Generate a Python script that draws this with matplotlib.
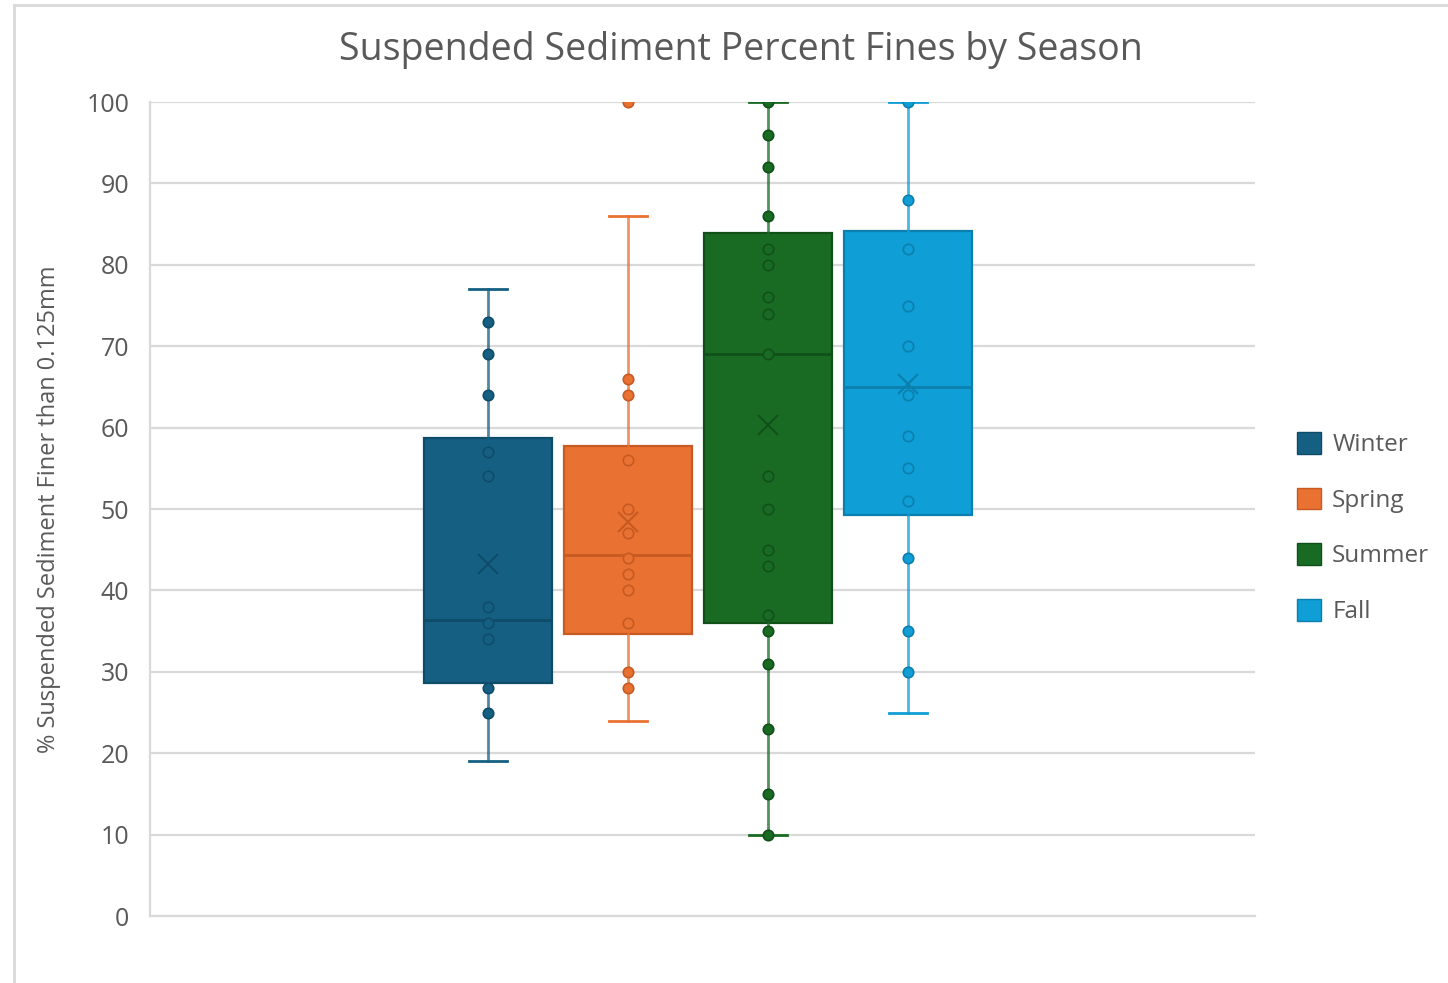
import matplotlib
matplotlib.use("Agg")
import matplotlib.pyplot as plt
from matplotlib.lines import Line2D
from matplotlib.patches import Patch

plt.rcParams['font.family'] = ['Open Sans', 'DejaVu Sans']

# Seasons and their colours
seasons = ["Winter", "Spring", "Summer", "Fall"]
fill_colors = ["#156082", "#E97132", "#196B24", "#0F9ED5"]
edge_colors = ["#0F4C69", "#C65A22", "#12501A", "#0B7FAD"]

# Individual sample values (% finer than 0.125 mm) shown as dots
winter_pts = [73, 69, 64, 57, 54, 38, 36, 34, 28, 25]
spring_pts = [66, 64, 56, 50, 47, 44, 42, 40, 36, 30, 28]
summer_pts = [100, 96, 92, 86, 82, 80, 76, 74, 69, 54, 50, 45, 43, 37, 35, 31, 23, 15, 10]
fall_pts = [100, 88, 82, 75, 70, 64, 59, 55, 51, 44, 35, 30]
points = [winter_pts, spring_pts, summer_pts, fall_pts]

# Box summary statistics per season
whisker_low = [19, 24, 10, 25]
q1 = [28.6, 34.6, 36.0, 49.3]
median = [36.4, 44.4, 69.0, 65.0]
q3 = [58.7, 57.8, 83.9, 84.1]
whisker_high = [77, 86, 100, 100]
mean = [43.3, 48.4, 60.3, 65.4]
outliers = [[], [100], [], []]

yticks = [0, 10, 20, 30, 40, 50, 60, 70, 80, 90, 100]

text_gray = "#595959"
grid_gray = "#D9D9D9"

fig = plt.figure(figsize=(14.48, 9.83), dpi=100)
W, H = 1448, 983
ax = fig.add_axes([150 / W, 1 - 916 / H, (1255 - 150) / W, (916 - 102) / H])

positions = list(range(len(seasons)))
box_width = 0.914

for i in positions:
    stats = [dict(whislo=whisker_low[i], q1=q1[i], med=median[i], q3=q3[i],
                  whishi=whisker_high[i], mean=mean[i], fliers=[])]
    ax.bxp(stats, positions=[i], widths=box_width, patch_artist=True,
           showmeans=False, showfliers=False, manage_ticks=False,
           boxprops=dict(facecolor=fill_colors[i], edgecolor=edge_colors[i], linewidth=1.6),
           medianprops=dict(color=edge_colors[i], linewidth=2.0),
           whiskerprops=dict(color=fill_colors[i], linewidth=2.0, alpha=0.75),
           capprops=dict(color=fill_colors[i], linewidth=2.0),
           capwidths=0.27)
    ys = points[i] + outliers[i]
    ax.plot([i] * len(ys), ys, linestyle="none", marker="o", markersize=7.5,
            markerfacecolor=fill_colors[i], markeredgecolor=edge_colors[i],
            markeredgewidth=1.2, zorder=4)
    ax.plot([i], [mean[i]], linestyle="none", marker="x", markersize=15,
            markeredgewidth=1.5, color=edge_colors[i], zorder=5)

ax.set_xlim((150 - 488) / 140, (1255 - 488) / 140)
ax.set_ylim(0, 100)
ax.set_yticks(yticks)
ax.set_yticklabels([str(t) for t in yticks], fontsize=18, color=text_gray)
ax.set_xticks([])
ax.tick_params(axis="y", length=0, pad=15)
ax.yaxis.grid(True, color=grid_gray, linewidth=1.6)
ax.set_axisbelow(True)
for s in ["top", "right"]:
    ax.spines[s].set_visible(False)
ax.spines["left"].set_color(grid_gray)
ax.spines["left"].set_linewidth(1.6)
ax.spines["bottom"].set_color(grid_gray)
ax.spines["bottom"].set_linewidth(1.6)

ax.set_ylabel("% Suspended Sediment Finer than 0.125mm", fontsize=17,
              color=text_gray, labelpad=18)

fig.text(741 / W, 1 - 50 / H, "Suspended Sediment Percent Fines by Season",
         fontsize=27, color=text_gray, ha="center", va="center")

handles = [Patch(facecolor=c, edgecolor=e, linewidth=1.0) for c, e in zip(fill_colors, edge_colors)]
leg = fig.legend(handles, seasons, loc="center left",
                 bbox_to_anchor=(1297 / W, 1 - 528 / H), frameon=False,
                 borderaxespad=0, borderpad=0,
                 fontsize=17.5, labelcolor=text_gray, handlelength=1.0,
                 handleheight=1.0, handletextpad=0.45, labelspacing=1.25)

# chart frame
fig.add_artist(Line2D([14 / W, 14 / W], [0, 1 - 5 / H], color=grid_gray, linewidth=2.0))
fig.add_artist(Line2D([14 / W, 1], [1 - 5 / H, 1 - 5 / H], color=grid_gray, linewidth=2.0))

fig.savefig("out.png", dpi=100)
